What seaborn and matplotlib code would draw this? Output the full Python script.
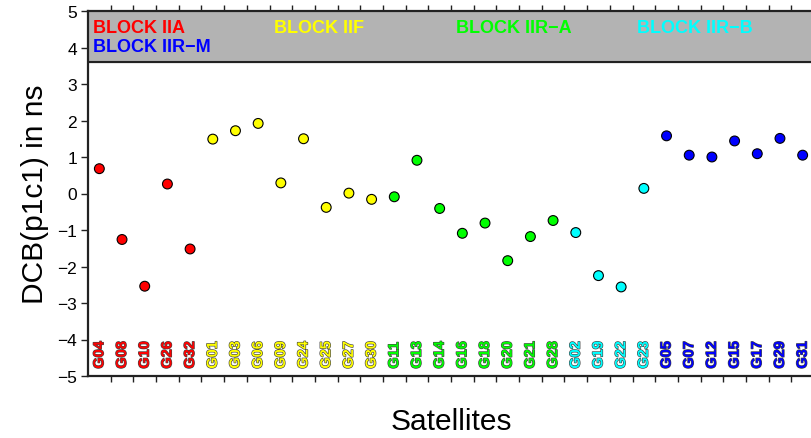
import numpy as np
import pandas as pd
import matplotlib
matplotlib.use("Agg")
import matplotlib.pyplot as plt
import matplotlib.patheffects as pe
import seaborn as sns

# satellites grouped by block, in plotting order
satellites = ["G04", "G08", "G10", "G26", "G32",
              "G01", "G03", "G06", "G09", "G24", "G25", "G27", "G30",
              "G11", "G13", "G14", "G16", "G18", "G20", "G21", "G28",
              "G02", "G19", "G22", "G23",
              "G05", "G07", "G12", "G15", "G17", "G29", "G31"]
blocks = (["BLOCK IIA"] * 5 + ["BLOCK IIF"] * 8 + ["BLOCK IIR\u2212A"] * 8
          + ["BLOCK IIR\u2212B"] * 4 + ["BLOCK IIR\u2212M"] * 7)
dcb = [0.68, -1.26, -2.54, 0.26, -1.52,
       1.49, 1.72, 1.92, 0.29, 1.50, -0.38, 0.01, -0.16,
       -0.09, 0.91, -0.41, -1.09, -0.81, -1.84, -1.18, -0.74,
       -1.07, -2.25, -2.56, 0.14,
       1.58, 1.05, 1.00, 1.44, 1.09, 1.51, 1.05]

block_colors = {"BLOCK IIA": "#ff0000", "BLOCK IIF": "#ffff00",
                "BLOCK IIR\u2212A": "#00ff00", "BLOCK IIR\u2212B": "#00ffff",
                "BLOCK IIR\u2212M": "#0000ff"}

df = pd.DataFrame({"sat": satellites, "block": blocks, "dcb": dcb})
df["pos"] = np.arange(len(df)) + 0.5

sns.set_style("ticks")
plt.rcParams["font.family"] = ["Liberation Sans", "DejaVu Sans"]
plt.rcParams["text.color"] = "black"
plt.rcParams["axes.labelcolor"] = "black"
plt.rcParams["ytick.labelcolor"] = "black"

fig = plt.figure(figsize=(8.11, 4.39), dpi=100)
ax = fig.add_axes([88 / 811, 62 / 439, 726 / 811, 365 / 439])

# grey header band
ax.axhspan(3.6, 5, color="#b3b3b3", zorder=0)
ax.axhline(3.6, color="#222222", lw=1.5, zorder=1)

sns.scatterplot(data=df, x="pos", y="dcb", hue="block", palette=block_colors,
                s=50, edgecolor="black", linewidth=0.8, legend=False, ax=ax, zorder=3)

ax.set_xlim(0, len(df))
ax.set_ylim(-5, 5)
ax.set_yticks(range(-5, 6))
ax.set_yticklabels([str(v).replace("-", "\u2212") for v in range(-5, 6)])
ax.set_xticks(np.arange(1, len(df)))
ax.tick_params(axis="x", top=True, bottom=True, labelbottom=False, length=4, width=1, color="#222222")
ax.tick_params(axis="y", length=5, width=1, color="#222222", labelsize=12.5, pad=3,
               labelcolor="black")
for side in ["left", "bottom", "top"]:
    ax.spines[side].set_linewidth(1.6)
    ax.spines[side].set_color("#222222")
ax.spines["right"].set_visible(False)

# satellite names inside the plot, coloured by block
for _, r in df.iterrows():
    ax.text(r["pos"], -4.8, r["sat"], rotation=90, ha="center", va="bottom",
            fontsize=10.5, fontweight="bold", color=block_colors[r["block"]],
            path_effects=[pe.withStroke(linewidth=0.9, foreground="#444444")])

# block labels in the header
label_pos = [("BLOCK IIA", 0.2, 4.55), ("BLOCK IIF", 8.2, 4.55),
             ("BLOCK IIR\u2212A", 16.2, 4.55), ("BLOCK IIR\u2212B", 24.2, 4.55),
             ("BLOCK IIR\u2212M", 0.2, 4.03)]
for name, x, y in label_pos:
    ax.text(x, y, name, ha="left", va="center", fontsize=13, fontweight="bold",
            color=block_colors[name])

ax.set_xlabel("Satellites", fontsize=21.5, labelpad=18, color="black")
ax.set_ylabel("DCB(p1c1) in ns", fontsize=21.5, labelpad=6, color="black")

fig.savefig("out.png", dpi=100)
